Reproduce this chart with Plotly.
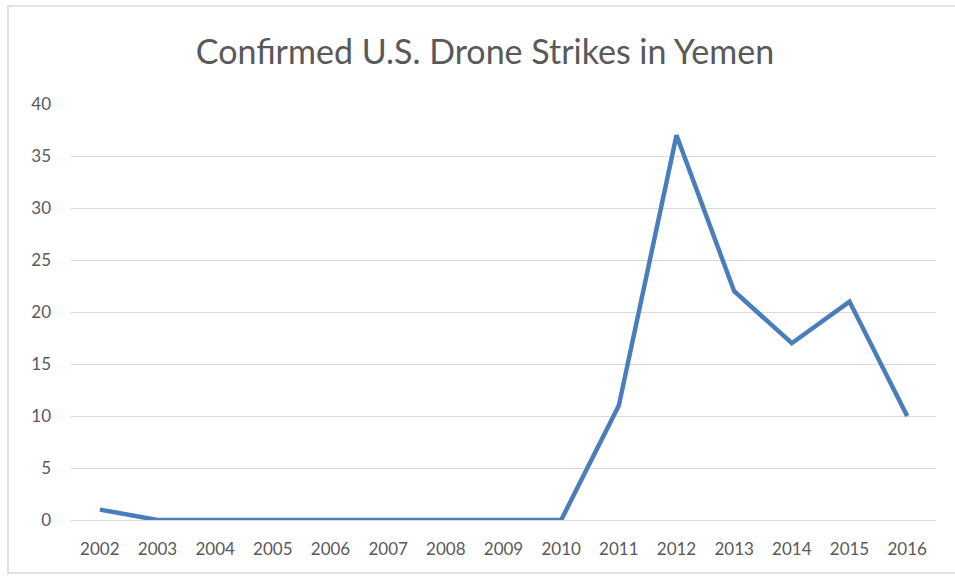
import plotly.graph_objects as go

years = [str(y) for y in range(2002, 2017)]
strikes = [1, 0, 0, 0, 0, 0, 0, 0, 0, 11, 37, 22, 17, 21, 10]
y_ticks = [0, 5, 10, 15, 20, 25, 30, 35, 40]

fig = go.Figure()
fig.add_trace(go.Scatter(
    x=years, y=strikes, mode="lines",
    line=dict(color="#4a7ebb", width=4.5),
    showlegend=False, hoverinfo="x+y",
))

L, R, T, B = 71, 19, 104, 58
W, H = 955, 578
pw, ph = W - L - R, H - T - B

fig.update_layout(
    width=W, height=H,
    margin=dict(l=L, r=R, t=T, b=B),
    paper_bgcolor="white", plot_bgcolor="white",
    title=dict(text="Confirmed U.S. Drone Strikes in Yemen",
               x=485 / W, xanchor="center", y=1 - 52 / H, yanchor="middle",
               font=dict(family="Lato", size=34, color="#595959")),
    font=dict(family="Lato", color="#595959"),
    xaxis=dict(type="category", range=[-0.5, len(years) - 0.5], showgrid=False,
               showline=False, zeroline=False,
               ticks="", tickfont=dict(size=17, color="#595959"), ticklabelstandoff=17),
    yaxis=dict(range=[0, 40], tickvals=y_ticks, showgrid=True, gridcolor="#d9d9d9",
               gridwidth=1, zeroline=True, zerolinecolor="#d9d9d9", zerolinewidth=1,
               showline=False, ticks="", tickfont=dict(size=17, color="#595959"),
               ticklabelstandoff=19),
    shapes=[dict(type="rect", xref="paper", yref="paper",
                 x0=(8 - L) / pw, x1=(W + 5 - L) / pw,
                 y0=-(B - 5) / ph,
                 y1=(T - 6) / ph + 1,
                 line=dict(color="#d9d9d9", width=1.5), layer="below")],
)

fig.write_html("out.html")
